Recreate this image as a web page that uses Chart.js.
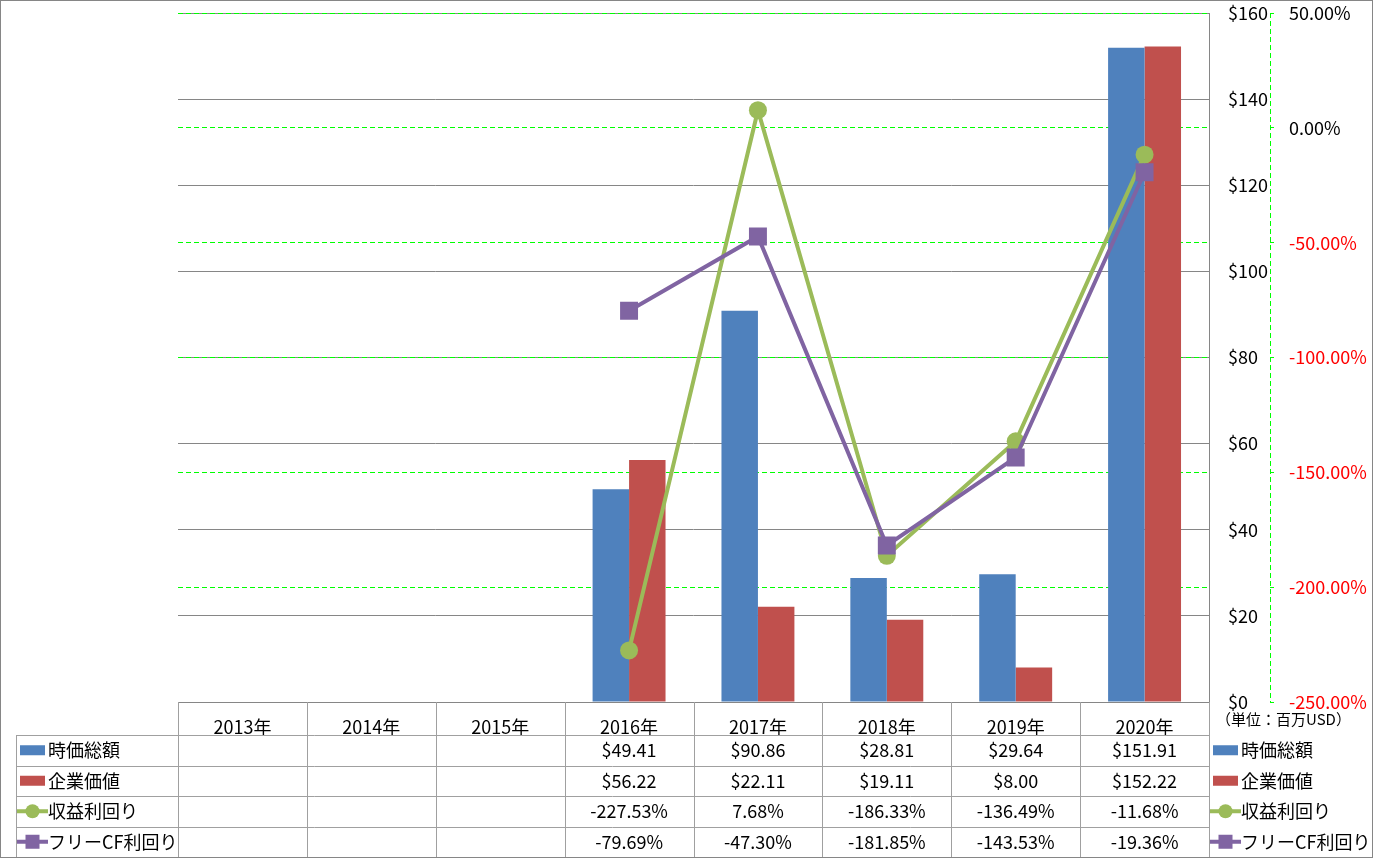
<!DOCTYPE html>
<html>
<head>
<meta charset="utf-8">
<script src="https://cdn.jsdelivr.net/npm/chart.js@4.4.1/dist/chart.umd.min.js"></script>
<style>
  body { margin: 0; background: #fff; }
  canvas { display: block; }
</style>
</head>
<body>
<canvas id="chart" width="1373" height="858"></canvas>
<script>
const years = ["2013年", "2014年", "2015年", "2016年", "2017年", "2018年", "2019年", "2020年"];
const marketCap = [null, null, null, 49.41, 90.86, 28.81, 29.64, 151.91];
const enterpriseValue = [null, null, null, 56.22, 22.11, 19.11, 8.0, 152.22];
const earningsYield = [null, null, null, -227.53, 7.68, -186.33, -136.49, -11.68];
const fcfYield = [null, null, null, -79.69, -47.3, -181.85, -143.53, -19.36];

const BLUE = "#4f81bd";
const RED = "#c0504d";
const GREEN = "#9bbb59";
const PURPLE = "#8064a2";
const GRID = "#868686";
const LINE = "#a0a0a0";
const LIME = "#00ff00";

Chart.defaults.font.family = '"Noto Sans CJK JP", "Noto Sans", sans-serif';
Chart.defaults.font.size = 18;
Chart.defaults.color = "#000";

const tableRows = [
  { label: "時価総額", key: "bar", color: BLUE, data: marketCap, fmt: (v) => "$" + v.toFixed(2) },
  { label: "企業価値", key: "bar", color: RED, data: enterpriseValue, fmt: (v) => "$" + v.toFixed(2) },
  { label: "収益利回り", key: "circle", color: GREEN, data: earningsYield, fmt: (v) => v.toFixed(2) + "%" },
  { label: "フリーCF利回り", key: "square", color: PURPLE, data: fcfYield, fmt: (v) => v.toFixed(2) + "%" },
];

const drawKey = (ctx, row, x, cy) => {
  ctx.fillStyle = row.color;
  if (row.key === "bar") {
    ctx.fillRect(x, cy - 5, 25, 10);
    return;
  }
  ctx.fillRect(x - 3, cy - 2, 31, 4);
  if (row.key === "circle") {
    ctx.beginPath();
    ctx.arc(x + 12.5, cy, 7, 0, Math.PI * 2);
    ctx.fill();
  } else {
    ctx.fillRect(x + 5.5, cy - 7, 14, 14);
  }
};

const dataTable = {
  id: "dataTable",
  afterDraw(chart) {
    const ctx = chart.ctx;
    const x = chart.scales.x;
    const y1 = chart.scales.y1;
    const top = chart.chartArea.bottom;
    const bottom = 857;
    const headerH = 33;
    const rowH = (bottom - top - headerH) / tableRows.length;
    const colW = x.width / years.length;

    ctx.save();
    // dashed secondary axis line
    ctx.strokeStyle = LIME;
    ctx.lineWidth = 1;
    ctx.setLineDash([5, 3]);
    ctx.beginPath();
    ctx.moveTo(Math.round(y1.left) + 0.5, y1.top);
    ctx.lineTo(Math.round(y1.left) + 0.5, y1.bottom);
    ctx.stroke();
    ctx.setLineDash([]);

    // table grid
    ctx.strokeStyle = LINE;
    ctx.beginPath();
    for (let i = 0; i <= years.length; i++) {
      const px = Math.round(x.left + i * colW) + 0.5;
      ctx.moveTo(px, top);
      ctx.lineTo(px, bottom);
    }
    for (let r = 0; r < tableRows.length; r++) {
      const py = Math.round(top + headerH + r * rowH) + 0.5;
      ctx.moveTo(16, py);
      ctx.lineTo(x.right, py);
    }
    ctx.moveTo(16.5, top + headerH);
    ctx.lineTo(16.5, bottom);
    ctx.stroke();

    // values and legend keys
    ctx.textBaseline = "middle";
    tableRows.forEach((row, r) => {
      const cy = top + headerH + r * rowH + rowH / 2;
      ctx.font = '18px "Noto Sans CJK JP"';
      ctx.textAlign = "center";
      ctx.fillStyle = "#000";
      row.data.forEach((v, i) => {
        if (v === null) return;
        ctx.fillText(row.fmt(v), x.getPixelForValue(i), cy);
      });
      ctx.textAlign = "left";
      [20, 1213].forEach((kx) => {
        drawKey(ctx, row, kx, cy);
        ctx.fillStyle = "#000";
        ctx.font = '18px "Noto Sans CJK JP"';
        ctx.fillText(row.label, kx + 28, cy);
      });
    });

    ctx.font = '15px "Noto Sans CJK JP"';
    ctx.fillText("（単位：百万USD）", 1216, top + 17);

    // outer frame
    ctx.strokeStyle = GRID;
    ctx.strokeRect(0.5, 0.5, 1372, 857);
    ctx.restore();
  },
};

const noPad = (s, w) => {
  s.width = w;
  s.paddingTop = 0;
  s.paddingBottom = 0;
};

new Chart(document.getElementById("chart"), {
  data: {
    labels: years,
    datasets: [
      {
        type: "line",
        label: "フリーCF利回り",
        data: fcfYield,
        yAxisID: "y1",
        order: 0,
        borderColor: PURPLE,
        backgroundColor: PURPLE,
        borderWidth: 4,
        pointStyle: "rect",
        pointRadius: 12.7,
        pointBorderWidth: 0,
      },
      {
        type: "line",
        label: "収益利回り",
        data: earningsYield,
        yAxisID: "y1",
        order: 1,
        borderColor: GREEN,
        backgroundColor: GREEN,
        borderWidth: 4,
        pointStyle: "circle",
        pointRadius: 9,
        pointBorderWidth: 0,
      },
      {
        type: "bar",
        label: "時価総額",
        data: marketCap,
        yAxisID: "y",
        order: 2,
        backgroundColor: BLUE,
        categoryPercentage: 0.566,
        barPercentage: 1,
      },
      {
        type: "bar",
        label: "企業価値",
        data: enterpriseValue,
        yAxisID: "y",
        order: 3,
        backgroundColor: RED,
        categoryPercentage: 0.566,
        barPercentage: 1,
      },
    ],
  },
  options: {
    responsive: false,
    animation: false,
    devicePixelRatio: 1,
    layout: { padding: { left: 178, top: 13, right: 0, bottom: 1 } },
    plugins: { legend: { display: false }, tooltip: { enabled: false } },
    scales: {
      x: {
        offset: true,
        grid: { display: false },
        border: { display: true, color: GRID },
        ticks: { padding: 6, maxRotation: 0, autoSkip: false },
        afterFit: (s) => {
          s.height = 155;
          s.paddingLeft = 0;
          s.paddingRight = 0;
        },
      },
      y: {
        position: "right",
        weight: 0,
        min: 0,
        max: 160,
        ticks: { stepSize: 20, padding: 19, callback: (v) => "$" + v },
        grid: { color: GRID, drawTicks: false },
        border: { display: true, color: GRID },
        afterFit: (s) => noPad(s, 61),
      },
      y1: {
        position: "right",
        weight: 1,
        min: -250,
        max: 50,
        ticks: {
          stepSize: 50,
          padding: 15,
          callback: (v) => v.toFixed(2) + "%",
          color: (c) => (c.tick && c.tick.value < 0 ? "#ff0000" : "#000"),
        },
        grid: {
          z: -1,
          color: LIME,
          tickColor: LIME,
          tickLength: 4,
        },
        border: { display: false, dash: [5, 3] },
        afterFit: (s) => noPad(s, 103),
      },
    },
  },
  plugins: [dataTable],
});
</script>
</body>
</html>
